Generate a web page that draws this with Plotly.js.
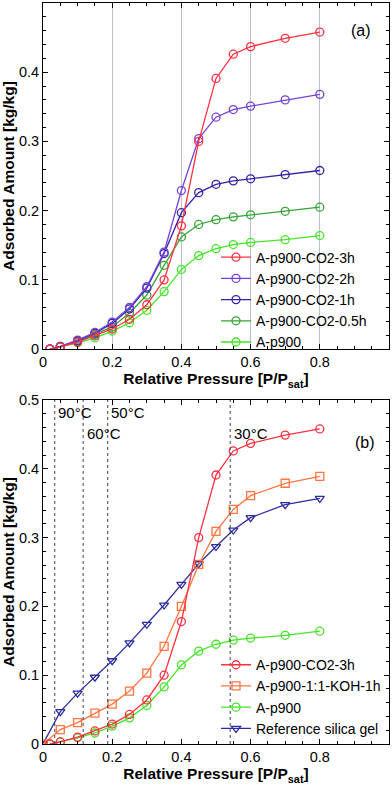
<!DOCTYPE html>
<html>
<head>
<meta charset="utf-8">
<script src="https://cdn.plot.ly/plotly-3.0.1.min.js"></script>
<style>
  body { margin: 0; background: #fff; }
  #plot { width: 392px; height: 788px; }
</style>
</head>
<body>
<div id="plot"></div>
<script>
// relative pressure points
var p_ads = [0.02, 0.05, 0.1, 0.15, 0.2, 0.25, 0.3, 0.35, 0.4, 0.45, 0.5, 0.55, 0.6, 0.7, 0.8];
var p_ref = [0.0, 0.05, 0.1, 0.15, 0.2, 0.25, 0.3, 0.35, 0.4, 0.45, 0.5, 0.55, 0.6, 0.7, 0.8];

// panel (a)
var co2_3h  = [0.0, 0.003, 0.010, 0.019, 0.029, 0.043, 0.064, 0.100, 0.178, 0.300, 0.391, 0.426, 0.437, 0.449, 0.458];
var co2_2h  = [0.0, 0.004, 0.013, 0.024, 0.039, 0.060, 0.090, 0.140, 0.229, 0.304, 0.335, 0.346, 0.351, 0.360, 0.368];
var co2_1h  = [0.0, 0.004, 0.012, 0.023, 0.037, 0.058, 0.088, 0.138, 0.197, 0.226, 0.238, 0.243, 0.246, 0.252, 0.258];
var co2_05h = [0.0, 0.003, 0.011, 0.021, 0.032, 0.052, 0.078, 0.121, 0.162, 0.180, 0.187, 0.191, 0.194, 0.199, 0.205];
var p900    = [0.0, 0.003, 0.009, 0.016, 0.026, 0.038, 0.056, 0.083, 0.115, 0.135, 0.145, 0.151, 0.154, 0.158, 0.164];

// panel (b)
var koh_1h  = [0.0, 0.021, 0.031, 0.045, 0.058, 0.077, 0.103, 0.142, 0.200, 0.261, 0.309, 0.341, 0.361, 0.379, 0.389];
var silica  = [0.0, 0.047, 0.074, 0.097, 0.121, 0.147, 0.174, 0.202, 0.232, 0.262, 0.287, 0.311, 0.329, 0.348, 0.357];

// regeneration temperature marks
var tempX = [0.034, 0.116, 0.187, 0.541];
var tempLabels = ['90°C', '60°C', '50°C', '30°C'];
var tempLabelY = [0.482, 0.452, 0.482, 0.452];

function series(x, y, name, color, symbol, xa, ya, leg) {
    return {
        x: x, y: y, name: name,
        type: 'scatter', mode: 'lines+markers',
        xaxis: xa, yaxis: ya, legend: leg,
        line: {color: color, width: 1.3},
        marker: {symbol: symbol, size: 8, color: color, line: {color: color, width: 1.3}}
    };
}

var data = [
    // (a) drawn bottom-up so red sits on top
    series(p_ads, p900, 'A-p900', '#44e526', 'circle-open', 'x', 'y', 'legend'),
    series(p_ads, co2_05h, 'A-p900-CO2-0.5h', '#35a535', 'circle-open', 'x', 'y', 'legend'),
    series(p_ads, co2_1h, 'A-p900-CO2-1h', '#3322a8', 'circle-open', 'x', 'y', 'legend'),
    series(p_ads, co2_2h, 'A-p900-CO2-2h', '#7442d8', 'circle-open', 'x', 'y', 'legend'),
    series(p_ads, co2_3h, 'A-p900-CO2-3h', '#ff3040', 'circle-open', 'x', 'y', 'legend'),
    // (b)
    series(p_ref, silica, 'Reference silica gel', '#2e2ea0', 'triangle-down-open', 'x2', 'y2', 'legend2'),
    series(p_ads, p900, 'A-p900', '#44e526', 'circle-open', 'x2', 'y2', 'legend2'),
    series(p_ref, koh_1h, 'A-p900-1:1-KOH-1h', '#ff7440', 'square-open', 'x2', 'y2', 'legend2'),
    series(p_ads, co2_3h, 'A-p900-CO2-3h', '#ff3040', 'circle-open', 'x2', 'y2', 'legend2')
];

var tickFont = {size: 14.5, color: '#000'};
var titleFont = {size: 15.5, color: '#000'};

function xax(anchor, grid) {
    return {
        anchor: anchor, range: [0, 1], dtick: 0.2,
        showline: true, linecolor: '#000', linewidth: 1, mirror: 'allticks',
        ticks: 'inside', ticklen: 5, tickcolor: '#000',
        minor: {dtick: 0.05, ticks: 'inside', ticklen: 3, tickcolor: '#000', showgrid: false},
        showgrid: grid, gridcolor: '#b9c1d3', gridwidth: 1, zeroline: false,
        tickfont: tickFont,
        title: {text: '<b>Relative Pressure [P/P<sub>sat</sub>]</b>', font: titleFont, standoff: 1}
    };
}
function yax(anchor, domain) {
    return {
        anchor: anchor, domain: domain, range: [0, 0.5], dtick: 0.1,
        showline: true, linecolor: '#000', linewidth: 1, mirror: 'allticks',
        ticks: 'inside', ticklen: 5, tickcolor: '#000',
        minor: {dtick: 0.02, ticks: 'inside', ticklen: 3, tickcolor: '#000', showgrid: false},
        showgrid: false, zeroline: false,
        tickfont: tickFont,
        title: {text: '<b>Adsorbed Amount [kg/kg]</b>', font: titleFont, standoff: 4}
    };
}

var shapes = tempX.map(function (t) {
    return {type: 'line', xref: 'x2', yref: 'y2', x0: t, x1: t, y0: 0, y1: 0.5,
            line: {color: '#3a4050', width: 1, dash: 'dot'}};
});

var annotations = [
    {text: '(a)', xref: 'x', yref: 'y', x: 0.92, y: 0.46, showarrow: false, font: {size: 16, color: '#000'}},
    {text: '(b)', xref: 'x2', yref: 'y2', x: 0.93, y: 0.438, showarrow: false, font: {size: 16, color: '#000'}}
];
tempLabels.forEach(function (t, i) {
    annotations.push({text: t, xref: 'x2', yref: 'y2', x: tempX[i] + 0.004, y: tempLabelY[i],
                      xanchor: 'left', showarrow: false, font: {size: 15, color: '#000'}});
});

var legendFont = {size: 14, color: '#000'};
var layout = {
    width: 392, height: 788,
    margin: {l: 43, r: 3, t: 3, b: 44},
    paper_bgcolor: '#fff', plot_bgcolor: '#fff',
    font: {family: '"Liberation Sans", Arial, sans-serif', color: '#000'},
    xaxis: xax('y', true),
    yaxis: yax('x', [0.533, 1]),
    xaxis2: xax('y2', false),
    yaxis2: yax('x2', [0, 0.4642]),
    legend: {x: 0.5, y: 0.678, xanchor: 'left', yanchor: 'top', traceorder: 'reversed',
             bgcolor: 'rgba(0,0,0,0)', font: legendFont},
    legend2: {x: 0.5, y: 0.128, xanchor: 'left', yanchor: 'top', traceorder: 'reversed',
              bgcolor: 'rgba(0,0,0,0)', font: legendFont},
    shapes: shapes,
    annotations: annotations
};

Plotly.newPlot('plot', data, layout, {displayModeBar: false, staticPlot: true});
</script>
</body>
</html>
